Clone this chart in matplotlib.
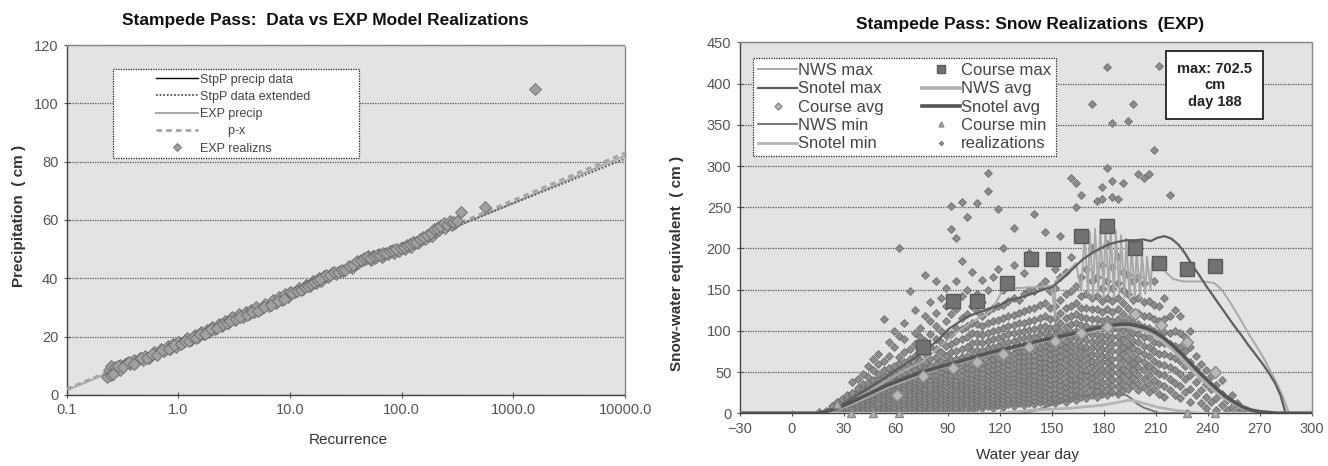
import matplotlib
matplotlib.use('Agg')
import matplotlib.pyplot as plt
from matplotlib.ticker import NullLocator
from matplotlib.patches import Rectangle
import numpy as np

plt.rcParams['font.family'] = ['Liberation Sans', 'DejaVu Sans']

# ---------------- left chart data ----------------
rec_ticks = [0.1, 1, 10, 100, 1000, 10000]
rec_ticklabels = ['0.1', '1.0', '10.0', '100.0', '1000.0', '10000.0']
precip_ticks = [0, 20, 40, 60, 80, 100, 120]

stpp_data_R = [0.24, 0.5, 1.0, 2.0, 5.0, 10.0, 20.0, 50.0, 60.0]
stpp_data_P = [7.0, 12.6, 17.5, 22.5, 29.3, 34.6, 40.0, 46.8, 47.0]
stpp_ext_R = [60.0, 10000.0]
stpp_ext_P = [47.0, 81.0]
exp_precip_R = [0.1, 10000.0]
exp_precip_P = [1.6, 82.0]
px_R = [0.1, 10000.0]
px_P = [2.0, 83.0]

exp_real_R = [0.23, 0.24, 0.25, 0.25, 0.26, 0.27, 0.28, 0.30, 0.30, 0.33, 0.35, 0.37, 0.40, 0.42,
              0.45, 0.48, 0.50, 0.55, 0.60, 0.65, 0.70, 0.75, 0.80, 0.85, 0.90, 0.95, 1.0, 1.1,
              1.2, 1.3, 1.4, 1.5, 1.6, 1.7, 1.8, 1.9, 2.0, 2.15, 2.3, 2.45, 2.6, 2.8, 3.0, 3.2,
              3.5, 3.8, 4.0, 4.3, 4.5, 4.8, 5.0, 5.5, 6.0, 6.5, 7.0, 7.5, 8.0, 8.5, 9.0, 9.5,
              10.0, 11.0, 12.0, 13.0, 14.0, 15.0, 16.0, 17.0, 18.0, 19.0, 20.0, 22.0, 24.0, 26.0,
              28.0, 30.0, 33.0, 36.0, 38.0, 41.0, 44.0, 47.0, 50.0, 53.0, 55.0, 58.0, 62.0, 66.0,
              70.0, 75.0, 80.0, 85.0, 90.0, 95.0, 100.0, 108.0, 115.0, 122.0, 130.0, 140.0, 150.0,
              162.0, 175.0, 188.0, 200.0, 215.0, 230.0, 245.0, 260.0, 280.0, 300.0, 341.0, 560.0,
              1570.0,
              0.26, 0.29, 0.32, 0.36, 0.40, 0.46, 0.52, 0.58, 0.64, 0.72, 0.82, 0.92, 1.05, 1.15,
              1.25, 1.35, 1.45, 1.55, 1.75, 1.95, 2.2, 2.5, 2.7, 2.9, 3.3, 3.6, 4.1, 4.6, 5.2,
              5.8, 6.8, 7.8, 8.8, 10.5, 11.5, 12.5, 13.5, 14.5, 15.5, 16.5, 17.5, 18.5, 21.0,
              23.0, 25.0, 27.0, 29.0, 31.0, 34.0, 37.0, 40.0, 43.0, 46.0, 49.0, 52.0, 57.0,
              60.0, 64.0, 68.0, 72.0, 78.0, 83.0, 88.0, 98.0, 104.0, 112.0, 118.0, 126.0, 135.0,
              145.0, 156.0, 168.0, 182.0, 195.0, 208.0, 222.0, 238.0, 252.0, 270.0, 290.0, 310.0]
exp_real_P = [6.3, 8.5, 6.8, 10.0, 8.0, 9.5, 8.4, 10.4, 8.4, 10.6, 11.0, 10.6, 12.0, 11.4,
              12.8, 12.0, 13.4, 12.8, 14.6, 14.0, 15.7, 15.0, 16.8, 15.9, 17.6, 16.6, 18.3, 18.0,
              19.6, 19.0, 20.6, 20.0, 21.6, 20.9, 22.4, 21.6, 23.2, 22.6, 24.3, 23.6, 25.4, 24.6,
              26.6, 25.6, 27.6, 26.8, 28.6, 27.8, 29.3, 28.4, 30.1, 29.4, 31.3, 30.6, 32.4, 31.6,
              33.5, 32.7, 34.5, 33.6, 35.4, 35.2, 36.6, 36.2, 37.8, 37.4, 39.1, 38.4, 40.0, 39.2,
              40.8, 40.6, 41.8, 41.4, 42.6, 42.4, 43.8, 43.6, 44.8, 45.2, 46.4, 46.6, 47.5, 46.4,
              47.8, 46.8, 48.2, 47.2, 48.4, 48.2, 49.2, 48.6, 49.8, 49.4, 50.4, 50.2, 51.2, 50.8,
              52.0, 52.2, 53.0, 53.4, 54.6, 54.6, 56.0, 56.4, 57.8, 57.4, 58.6, 58.2, 59.0, 62.8,
              64.5, 105.0,
              7.2, 9.8, 9.6, 11.4, 10.6, 12.6, 12.6, 14.0, 13.6, 15.4, 15.8, 17.0, 17.4, 18.6,
              18.6, 19.8, 19.6, 20.8, 21.0, 22.6, 22.8, 24.2, 24.6, 25.4, 26.0, 26.6, 27.4, 28.6,
              28.8, 30.0, 31.0, 32.2, 33.0, 34.8, 35.6, 36.0, 37.0, 37.2, 38.2, 38.6, 39.4, 39.8,
              41.0, 41.0, 42.0, 42.0, 43.0, 42.8, 44.2, 44.4, 45.8, 46.2, 47.0, 47.2, 47.0, 47.6,
              48.0, 48.0, 48.8, 48.6, 49.2, 49.6, 50.0, 50.4, 50.8, 51.4, 51.6, 52.6, 52.4,
              53.6, 54.2, 55.0, 55.4, 56.8, 57.2, 58.0, 58.8, 58.2, 59.6, 59.2, 59.6]

# ---------------- right chart data ----------------
day_ticks = [-30, 0, 30, 60, 90, 120, 150, 180, 210, 240, 270, 300]
swe_ticks = [0, 50, 100, 150, 200, 250, 300, 350, 400, 450]

snotel_max_day = [-30, 10, 20, 24, 32, 40, 50, 60, 68, 76, 84, 91, 96, 100, 106, 114, 120, 125, 133,
                  140, 146, 150, 153, 158, 163, 168, 173, 178, 183, 188, 193, 198, 203, 207, 211,
                  215, 219, 223, 227, 231, 235, 239, 243, 247, 251, 255, 259, 263, 267, 271, 275,
                  279, 282, 285, 300]
snotel_max_swe = [0, 0, 1, 5, 14, 25, 38, 52, 63, 74, 88, 103, 110, 116, 121, 127, 131, 137, 141,
                  146, 151, 153, 158, 167, 177, 187, 194, 200, 205, 208, 210, 210, 211, 209, 213,
                  215, 212, 205, 194, 180, 168, 155, 143, 131, 119, 107, 96, 84, 73, 62, 50,
                  36, 22, 0, 0]

nws_max_day = [-30, 15, 25, 35, 45, 55, 65, 75, 85, 95, 105, 115, 122, 130, 140, 150, 152, 152,
               158, 164, 167, 169, 171, 172, 174, 175, 177, 178, 180, 181, 183, 184, 186, 187,
               189, 190, 192, 193, 195, 196, 198, 199, 201, 202, 204, 205, 207, 208, 210, 214,
               220, 226, 232, 238, 244, 248, 252, 256, 260, 264, 268, 272, 276, 280, 283, 287, 300]
nws_max_swe = [0, 0, 4, 15, 27, 40, 52, 62, 80, 98, 112, 124, 150, 152, 153, 155, 115, 160,
               170, 182, 150, 215, 145, 220, 140, 224, 145, 228, 140, 230, 145, 226, 140, 222,
               145, 216, 140, 212, 138, 206, 142, 200, 140, 196, 145, 190, 150, 186, 180, 175,
               163, 160, 160, 160, 158, 150, 138, 124, 110, 95, 82, 68, 52, 36, 22, 0, 0]

snotel_avg_day = [-30, 15, 25, 35, 45, 55, 65, 75, 85, 95, 105, 115, 125, 135, 145, 155, 165, 175,
                  185, 190, 195, 200, 205, 210, 215, 220, 225, 230, 235, 240, 245, 250, 255, 260,
                  265, 270, 275, 280, 300]
snotel_avg_swe = [0, 0, 5, 14, 24, 34, 42, 50, 56, 62, 68, 74, 79, 84, 89, 93, 98, 103, 107, 108,
                  108, 106, 103, 98, 91, 82, 72, 61, 50, 40, 30, 21, 14, 8, 4, 2, 1, 0, 0]
nws_avg_day = snotel_avg_day
nws_avg_swe = [0, 0, 4, 12, 22, 32, 40, 48, 55, 61, 67, 73, 78, 83, 88, 92, 97, 101, 105, 106,
               105, 103, 99, 94, 86, 77, 66, 55, 45, 35, 26, 18, 12, 7, 3, 1, 0, 0, 0]

nws_min_day = [-30, 130, 140, 150, 155, 160, 166, 172, 178, 183, 188, 193, 196, 199, 203, 207, 212, 300]
nws_min_swe = [0, 0, 3, 10, 14, 17, 21, 22, 23, 24, 23, 22, 18, 12, 7, 4, 0, 0]
snotel_min_day = [-30, 120, 130, 140, 150, 160, 170, 180, 185, 190, 195, 200, 210, 220, 228, 235, 300]
snotel_min_swe = [0, 0, 2, 4, 5, 6, 8, 10, 12, 14, 16, 14, 8, 4, 2, 0, 0]

course_max_day = [76, 93, 107, 124, 138, 151, 167, 182, 198, 212, 228, 244]
course_max_swe = [81, 136, 136, 158, 187, 187, 215, 227, 201, 182, 175, 179]
course_avg_day = [61, 76, 93, 107, 122, 137, 152, 167, 182, 198, 213, 228, 244]
course_avg_swe = [22, 45, 55, 62, 72, 80, 88, 98, 105, 120, 107, 87, 50]
course_min_day = [26, 34, 47, 62, 228, 244]
course_min_swe = [11, 0, 0, 0, 0, 0]

real_days = [16, 20, 23, 26, 29, 32, 35, 38, 41, 44, 47, 50, 53, 56, 59, 62, 65, 68, 71, 74, 77,
             80, 83, 86, 89, 92, 95, 98, 101, 104, 107, 110, 113, 116, 119, 122, 125, 128, 131,
             134, 137, 140, 143, 146, 149, 152, 155, 158, 161, 164, 167, 170, 173, 176, 179,
             182, 185, 188, 191, 194, 197, 200, 203, 206, 209, 212, 215, 218, 221, 224, 227,
             230, 233, 236, 239, 242, 245, 248, 251, 254, 257, 260, 263]
real_swe = [
    [0, 1], [0, 2, 3], [0, 3, 6, 9], [1, 4, 7, 11, 14], [0, 3, 6, 10, 13, 17],
    [1, 5, 8, 12, 15, 19, 22], [0, 3, 7, 11, 14, 18, 22, 25, 38],
    [1, 5, 9, 12, 16, 20, 24, 28, 31, 42], [0, 4, 7, 11, 15, 19, 23, 27, 31, 35, 48],
    [2, 6, 10, 14, 17, 21, 25, 29, 33, 37, 44, 57],
    [0, 3, 7, 12, 16, 20, 24, 28, 32, 36, 40, 52, 66],
    [1, 5, 9, 13, 18, 22, 26, 30, 34, 38, 43, 48, 60, 72],
    [0, 4, 8, 11, 15, 19, 23, 27, 31, 35, 40, 45, 53, 64, 115],
    [2, 6, 10, 14, 18, 22, 26, 30, 34, 38, 42, 47, 55, 70, 86],
    [0, 4, 8, 12, 16, 20, 24, 28, 32, 36, 41, 46, 51, 58, 80, 100],
    [1, 5, 9, 13, 17, 21, 25, 29, 33, 37, 42, 47, 53, 61, 68, 94, 200],
    [3, 7, 11, 15, 19, 23, 27, 31, 35, 39, 44, 49, 55, 62, 74, 90, 110],
    [0, 4, 8, 12, 16, 20, 24, 28, 32, 36, 40, 45, 50, 57, 66, 78, 148],
    [2, 6, 10, 14, 18, 22, 26, 30, 34, 38, 43, 48, 54, 60, 70, 84, 98, 125],
    [4, 8, 12, 16, 20, 24, 28, 32, 36, 40, 45, 51, 58, 65, 76, 92, 104],
    [1, 6, 10, 14, 18, 22, 26, 30, 35, 39, 43, 48, 55, 62, 72, 88, 118, 168],
    [3, 7, 11, 15, 19, 23, 27, 31, 36, 41, 46, 52, 58, 66, 80, 96, 112, 135],
    [5, 9, 13, 17, 21, 25, 29, 33, 37, 42, 47, 53, 60, 68, 78, 90, 106, 122, 160],
    [2, 7, 11, 15, 19, 23, 27, 31, 35, 39, 44, 50, 56, 64, 74, 86, 100, 140],
    [4, 8, 12, 16, 20, 24, 28, 33, 38, 43, 48, 54, 61, 70, 82, 95, 112, 130, 152],
    [6, 10, 14, 18, 22, 26, 30, 34, 38, 42, 47, 52, 58, 65, 74, 84, 96, 120, 224, 252],
    [3, 8, 12, 16, 20, 24, 28, 32, 36, 41, 46, 52, 58, 66, 76, 88, 104, 126, 160, 213],
    [5, 9, 13, 17, 21, 25, 29, 33, 37, 42, 47, 53, 60, 68, 78, 90, 102, 116, 142, 185, 257],
    [7, 11, 15, 19, 23, 27, 31, 35, 39, 44, 49, 55, 62, 70, 80, 92, 106, 120, 150, 238],
    [4, 9, 13, 17, 21, 25, 29, 33, 38, 43, 48, 54, 60, 67, 75, 85, 97, 110, 130, 172],
    [8, 12, 16, 20, 24, 28, 32, 36, 40, 45, 50, 56, 62, 69, 77, 86, 96, 108, 124, 145, 255],
    [6, 10, 14, 18, 22, 26, 30, 34, 39, 44, 49, 55, 61, 68, 76, 85, 95, 106, 118, 135, 162],
    [9, 13, 17, 21, 25, 29, 33, 37, 42, 47, 52, 58, 64, 71, 79, 88, 98, 110, 124, 150, 270, 292],
    [7, 11, 15, 19, 23, 28, 33, 38, 43, 48, 54, 60, 66, 73, 81, 90, 100, 112, 128, 165],
    [10, 14, 18, 22, 26, 30, 35, 40, 45, 50, 55, 61, 67, 74, 82, 91, 101, 113, 130, 175, 248],
    [8, 12, 17, 22, 27, 32, 37, 42, 47, 52, 58, 64, 70, 77, 85, 94, 104, 116, 132, 150, 200],
    [11, 15, 19, 24, 29, 34, 39, 44, 49, 54, 60, 66, 72, 79, 87, 96, 106, 118, 136, 160],
    [9, 14, 19, 24, 29, 34, 39, 44, 49, 55, 61, 67, 73, 80, 88, 97, 107, 119, 140, 180, 225],
    [12, 17, 22, 27, 32, 37, 42, 47, 52, 57, 63, 69, 75, 82, 90, 99, 109, 122, 138],
    [10, 15, 20, 25, 30, 35, 40, 45, 51, 57, 63, 69, 76, 83, 91, 100, 110, 124, 145, 170],
    [13, 18, 23, 28, 33, 38, 43, 48, 53, 59, 65, 71, 77, 84, 92, 101, 112, 126, 150, 195],
    [11, 16, 21, 26, 31, 36, 41, 47, 53, 59, 65, 71, 78, 85, 93, 102, 113, 128, 148, 242],
    [14, 19, 24, 29, 34, 39, 44, 50, 56, 62, 68, 74, 81, 88, 96, 105, 116, 132, 155],
    [12, 17, 22, 27, 32, 38, 44, 50, 56, 62, 68, 75, 82, 89, 97, 106, 118, 134, 160, 220],
    [15, 20, 25, 30, 36, 42, 48, 54, 60, 66, 72, 79, 86, 94, 103, 114, 128, 148, 185],
    [13, 19, 25, 31, 37, 43, 49, 55, 61, 67, 74, 81, 88, 96, 105, 116, 130, 152, 175],
    [16, 22, 28, 34, 40, 46, 52, 58, 64, 70, 77, 84, 92, 100, 110, 122, 138, 165, 215],
    [14, 20, 26, 32, 38, 45, 52, 59, 66, 73, 80, 88, 96, 105, 116, 128, 145, 172],
    [18, 24, 30, 36, 42, 48, 55, 62, 69, 76, 83, 91, 99, 108, 118, 130, 148, 190, 285],
    [16, 22, 28, 35, 42, 49, 56, 63, 70, 77, 84, 92, 100, 110, 120, 134, 155, 250, 280],
    [20, 26, 33, 40, 47, 54, 61, 68, 75, 82, 90, 98, 107, 117, 128, 142, 165, 265],
    [18, 25, 32, 39, 46, 53, 60, 67, 74, 81, 89, 97, 106, 116, 128, 145, 175, 218],
    [22, 29, 36, 43, 50, 57, 64, 71, 79, 87, 95, 104, 114, 126, 140, 160, 200, 375],
    [20, 27, 34, 41, 48, 56, 64, 72, 80, 88, 96, 105, 115, 127, 142, 165, 258],
    [24, 31, 38, 46, 54, 62, 70, 78, 86, 94, 103, 112, 123, 136, 152, 180, 260, 275],
    [22, 30, 38, 46, 54, 62, 70, 78, 86, 95, 104, 114, 126, 140, 160, 205, 298, 420],
    [26, 34, 42, 50, 58, 66, 75, 84, 93, 102, 112, 123, 136, 152, 178, 262, 282, 352],
    [24, 32, 40, 49, 58, 67, 76, 85, 94, 104, 114, 126, 140, 158, 190, 260],
    [28, 36, 45, 54, 63, 72, 81, 90, 100, 110, 121, 134, 150, 172, 280],
    [30, 39, 48, 57, 66, 75, 84, 94, 104, 115, 128, 145, 168, 355],
    [34, 43, 52, 61, 70, 79, 88, 98, 109, 122, 138, 160, 375],
    [28, 37, 46, 56, 66, 76, 86, 96, 108, 122, 140, 165, 290],
    [32, 42, 52, 62, 72, 82, 93, 105, 118, 135, 158, 285],
    [26, 36, 47, 58, 69, 80, 92, 104, 118, 136, 290],
    [30, 41, 52, 63, 75, 87, 100, 114, 132, 160, 320],
    [24, 36, 48, 60, 72, 85, 98, 112, 130, 422],
    [20, 33, 46, 59, 72, 85, 99, 115, 140],
    [28, 42, 56, 70, 84, 98, 118, 265],
    [22, 37, 52, 67, 82, 100, 125],
    [18, 33, 48, 64, 80, 98, 118],
    [26, 42, 58, 75, 92],
    [14, 30, 46, 62, 80, 100],
    [22, 38, 54, 70],
    [12, 28, 44, 60],
    [6, 20, 36, 52],
    [14, 30, 45],
    [4, 18, 34],
    [10, 24, 40],
    [4, 16],
    [8, 22],
    [2, 12],
    [5],
    [2],
]

# ---------------- figure ----------------
fig = plt.figure(figsize=(13.28, 4.66), dpi=100)
ax1 = fig.add_axes([0.0502, 0.1524, 0.4205, 0.751])
ax2 = fig.add_axes([0.557, 0.1131, 0.4307, 0.7957])

bg = '#e3e3e3'
tick_col = '#555555'
grid_kw = dict(color='#555555', linestyle=(0, (1, 1)), linewidth=0.9)

for ax in (ax1, ax2):
    ax.set_facecolor(bg)
    ax.set_axisbelow(True)
    ax.yaxis.grid(True, **grid_kw)
    ax.xaxis.grid(False)
    for name, sp in ax.spines.items():
        sp.set_linestyle((0, (1, 1)))
        sp.set_linewidth(1.0)
        sp.set_color('#444444' if name in ('left', 'bottom') else '#888888')
    ax.tick_params(axis='both', which='major', direction='inout', length=5,
                   color=tick_col, labelcolor=tick_col, labelsize=10.5, width=0.8)

# ---- left chart ----
ax1.set_xscale('log')
l_data, = ax1.plot(stpp_data_R, stpp_data_P, color='black', lw=1.0, zorder=2)
l_ext, = ax1.plot(stpp_ext_R, stpp_ext_P, color='#555555', lw=1.3, ls=(0, (1, 1)), zorder=3)
l_exp, = ax1.plot(exp_precip_R, exp_precip_P, color='#aaaaaa', lw=1.5, zorder=2)
l_px, = ax1.plot(px_R, px_P, color='#a5a5a5', lw=2.0, ls=(0, (2, 1.5)), zorder=3)
l_real, = ax1.plot(exp_real_R, exp_real_P, ls='none', marker='D', markersize=6.6,
                   markerfacecolor='#a0a0a0', markeredgecolor='#6c6c6c', markeredgewidth=0.6,
                   zorder=4)
ax1.set_xlim(0.1, 10000)
ax1.set_ylim(0, 120)
ax1.set_xticks(rec_ticks)
ax1.set_xticklabels(rec_ticklabels)
ax1.xaxis.set_minor_locator(NullLocator())
ax1.set_yticks(precip_ticks)

# legend box drawn separately (Excel style wide left padding)
ax1.add_patch(Rectangle((0.083, 0.678), 0.441, 0.253, transform=ax1.transAxes,
                        facecolor='white', edgecolor='#222222', lw=0.9,
                        linestyle=(0, (1, 1)), zorder=8))
leg1 = ax1.legend([l_data, l_ext, l_exp, l_px, l_real],
                  ['StpP precip data', 'StpP data extended', 'EXP precip', '        p-x',
                   'EXP realizns'],
                  loc='upper left', bbox_to_anchor=(0.152, 0.931), borderaxespad=0,
                  fontsize=9, handlelength=3.4, labelspacing=0.42, handletextpad=0.1,
                  borderpad=0.35, frameon=False, labelcolor='#444444', markerscale=0.6)
leg1.set_zorder(9)

# ---- right chart ----
pts_d = np.repeat(real_days, [len(v) for v in real_swe])
pts_s = np.concatenate([np.asarray(v, dtype=float) for v in real_swe])
l_rz, = ax2.plot(pts_d, pts_s, ls='none', marker='D', markersize=4.0,
                 markerfacecolor='#8c8c8c', markeredgecolor='#666666', markeredgewidth=0.5,
                 zorder=2)
l_nmin, = ax2.plot(nws_min_day, nws_min_swe, color='#7a7a7a', lw=1.4, zorder=3)
l_smin, = ax2.plot(snotel_min_day, snotel_min_swe, color='#b4b4b4', lw=2.0, zorder=3)
l_nmax, = ax2.plot(nws_max_day, nws_max_swe, color='#a8a8a8', lw=1.4, zorder=3)
l_smax, = ax2.plot(snotel_max_day, snotel_max_swe, color='#5e5e5e', lw=1.6, zorder=4)
l_navg, = ax2.plot(nws_avg_day, nws_avg_swe, color='#b0b0b0', lw=2.6, zorder=4)
l_savg, = ax2.plot(snotel_avg_day, snotel_avg_swe, color='#555555', lw=2.6, zorder=5)
l_cmax, = ax2.plot(course_max_day, course_max_swe, ls='none', marker='s', markersize=10,
                   markerfacecolor='#727272', markeredgecolor='#5a5a5a', zorder=6)
l_cavg, = ax2.plot(course_avg_day, course_avg_swe, ls='none', marker='D', markersize=6,
                   markerfacecolor='#b8b8b8', markeredgecolor='#8a8a8a', zorder=6)
l_cmin, = ax2.plot(course_min_day, course_min_swe, ls='none', marker='^', markersize=6,
                   markerfacecolor='#b0b0b0', markeredgecolor='#8a8a8a', zorder=6,
                   clip_on=False)
ax2.set_xlim(-30, 300)
ax2.set_ylim(0, 450)
ax2.set_xticks(day_ticks)
ax2.set_yticks(swe_ticks)

leg2 = ax2.legend([l_nmax, l_smax, l_cavg, l_nmin, l_smin, l_cmax, l_navg, l_savg, l_cmin, l_rz],
                  ['NWS max', 'Snotel max', 'Course avg', 'NWS min', 'Snotel min',
                   'Course max', 'NWS avg', 'Snotel avg', 'Course min', 'realizations'],
                  ncol=2, loc='upper left', bbox_to_anchor=(0.024, 0.958), borderaxespad=0,
                  fontsize=12, handlelength=2.3, labelspacing=0.2, handletextpad=0.05,
                  columnspacing=2.3, borderpad=0.3, fancybox=False, framealpha=1,
                  edgecolor='#222222', labelcolor='#444444', markerscale=0.6)
leg2.get_frame().set_linestyle((0, (1, 1)))
leg2.get_frame().set_linewidth(0.9)
leg2.set_zorder(9)

ax2.text(244, 398, 'max: 702.5\ncm\nday 188', ha='center', va='center', fontsize=10.5,
         fontweight='bold', color='#222222', linespacing=1.2,
         bbox=dict(boxstyle='square,pad=0.75', facecolor='white', edgecolor='#222222', lw=1.3),
         zorder=10)

# ---- titles & labels ----
W, H = 1328.0, 466.0
fig.text(325 / W, 1 - 20.7 / H, 'Stampede Pass:  Data vs EXP Model Realizations',
         ha='center', va='center', fontsize=12.5, fontweight='bold', color='#111111')
fig.text(1030 / W, 1 - 24 / H, 'Stampede Pass: Snow Realizations  (EXP)',
         ha='center', va='center', fontsize=12.5, fontweight='bold', color='#111111')
fig.text(19 / W, 1 - 216 / H, 'Precipitation  ( cm )', rotation=90, ha='center', va='center',
         fontsize=11, fontweight='bold', color='#333333')
fig.text(677 / W, 1 - 263 / H, 'Snow-water equivalent  ( cm )', rotation=90, ha='center',
         va='center', fontsize=11, fontweight='bold', color='#333333')
fig.text(348 / W, 1 - 440 / H, 'Recurrence', ha='center', va='center', fontsize=11,
         color='#333333')
fig.text(1027 / W, 1 - 455 / H, 'Water year day', ha='center', va='center', fontsize=11,
         color='#333333')

fig.savefig('out.png', dpi=100, facecolor='white')
